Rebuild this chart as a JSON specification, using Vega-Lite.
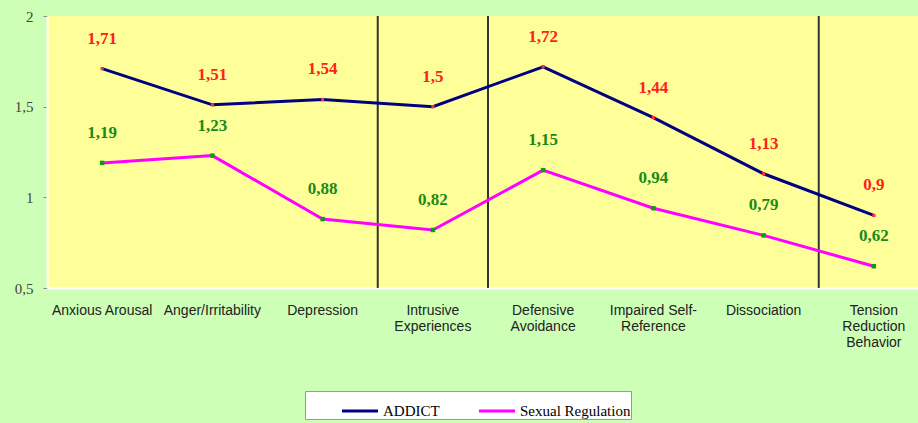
{
  "$schema": "https://vega.github.io/schema/vega-lite/v6.json",
  "autosize": {"type": "none"},
  "width": 871,
  "height": 272,
  "padding": {"left": 47, "top": 16, "right": 0, "bottom": 135},
  "background": "#cdffb6",
  "config": {
    "locale": {"number": {"decimal": ",", "thousands": ".", "grouping": [3], "currency": ["", " €"]}},
    "view": {"fill": "#ffff99", "stroke": null}
  },
  "datasets": {
    "scores": [
      {"category": "Anxious Arousal", "series": "ADDICT", "value": 1.71},
      {"category": "Anger/Irritability", "series": "ADDICT", "value": 1.51},
      {"category": "Depression", "series": "ADDICT", "value": 1.54},
      {"category": "Intrusive|Experiences", "series": "ADDICT", "value": 1.5},
      {"category": "Defensive|Avoidance", "series": "ADDICT", "value": 1.72},
      {"category": "Impaired Self-|Reference", "series": "ADDICT", "value": 1.44},
      {"category": "Dissociation", "series": "ADDICT", "value": 1.13},
      {"category": "Tension|Reduction|Behavior", "series": "ADDICT", "value": 0.9},
      {"category": "Anxious Arousal", "series": "Sexual Regulation", "value": 1.19},
      {"category": "Anger/Irritability", "series": "Sexual Regulation", "value": 1.23},
      {"category": "Depression", "series": "Sexual Regulation", "value": 0.88},
      {"category": "Intrusive|Experiences", "series": "Sexual Regulation", "value": 0.82},
      {"category": "Defensive|Avoidance", "series": "Sexual Regulation", "value": 1.15},
      {"category": "Impaired Self-|Reference", "series": "Sexual Regulation", "value": 0.94},
      {"category": "Dissociation", "series": "Sexual Regulation", "value": 0.79},
      {"category": "Tension|Reduction|Behavior", "series": "Sexual Regulation", "value": 0.62}
    ],
    "dividers": [
      {"category": "Intrusive|Experiences"},
      {"category": "Defensive|Avoidance"},
      {"category": "Tension|Reduction|Behavior"}
    ]
  },
  "layer": [
    {
      "data": {"name": "dividers"},
      "mark": {"type": "rule", "color": "#333333", "strokeWidth": 2},
      "encoding": {
        "x": {"field": "category", "type": "nominal", "bandPosition": 0}
      }
    },
    {
      "data": {"name": "scores"},
      "mark": {"type": "line", "strokeWidth": 3},
      "encoding": {
        "x": {
          "field": "category", "type": "nominal", "bandPosition": 0.5,
          "scale": {
            "type": "band", "paddingInner": 0, "paddingOuter": 0, "range": [0, 882],
            "domain": ["Anxious Arousal", "Anger/Irritability", "Depression", "Intrusive|Experiences", "Defensive|Avoidance", "Impaired Self-|Reference", "Dissociation", "Tension|Reduction|Behavior"]
          },
          "axis": {
            "title": null,
            "labelAngle": 0,
            "labelAlign": "center",
            "labelExpr": "split(datum.label, '|')",
            "labelFont": "Liberation Sans",
            "labelFontSize": 14,
            "labelColor": "#222222",
            "labelPadding": 15,
            "labelLineHeight": 16,
            "labelBaseline": "top",
            "labelOverlap": false,
            "labelBound": false,
            "domainColor": "#ffffff",
            "domainWidth": 2,
            "ticks": false,
            "grid": false
          }
        },
        "y": {
          "field": "value", "type": "quantitative",
          "scale": {"domain": [0.5, 2], "nice": false, "zero": false},
          "axis": {
            "title": null,
            "values": [0.5, 1, 1.5, 2],
            "format": "~g",
            "labelFont": "Liberation Serif",
            "labelFontSize": 15,
            "labelColor": "#444444",
            "labelPadding": 10,
            "domainColor": "#ffffff",
            "domainWidth": 2,
            "tickColor": "#888888",
            "tickSize": 4,
            "grid": false
          }
        },
        "color": {
          "field": "series", "type": "nominal",
          "scale": {"domain": ["ADDICT", "Sexual Regulation"], "range": ["#000080", "#ff00ff"]},
          "legend": {
            "title": null,
            "orient": "none",
            "legendX": 258,
            "legendY": 375,
            "direction": "horizontal",
            "fillColor": "#ffffff",
            "strokeColor": "#999999",
            "padding": 0,
            "symbolType": "stroke",
            "symbolStrokeWidth": 3,
            "symbolSize": 1300,
            "symbolOffset": 35,
            "labelOffset": 3,
            "labelFont": "Liberation Serif",
            "labelFontSize": 15,
            "labelColor": "#000000",
            "columnPadding": 2,
            "offset": 0
          }
        }
      }
    },
    {
      "data": {"name": "scores"},
      "transform": [{"filter": "datum.series == 'ADDICT'"}],
      "mark": {"type": "point", "shape": "square", "filled": true, "size": 10, "color": "#ff3030", "opacity": 1},
      "encoding": {
        "x": {"field": "category", "type": "nominal", "bandPosition": 0.5},
        "y": {"field": "value", "type": "quantitative"}
      }
    },
    {
      "data": {"name": "scores"},
      "transform": [{"filter": "datum.series == 'Sexual Regulation'"}],
      "mark": {"type": "point", "shape": "square", "filled": true, "size": 20, "color": "#119911", "opacity": 1},
      "encoding": {
        "x": {"field": "category", "type": "nominal", "bandPosition": 0.5},
        "y": {"field": "value", "type": "quantitative"}
      }
    },
    {
      "data": {"name": "scores"},
      "transform": [{"filter": "datum.series == 'ADDICT'"}],
      "mark": {"type": "text", "dy": -30, "font": "Liberation Serif", "fontWeight": "bold", "fontSize": 17, "color": "#ff2020"},
      "encoding": {
        "x": {"field": "category", "type": "nominal", "bandPosition": 0.5},
        "y": {"field": "value", "type": "quantitative"},
        "text": {"field": "value", "type": "quantitative", "format": "~g"}
      }
    },
    {
      "data": {"name": "scores"},
      "transform": [{"filter": "datum.series == 'Sexual Regulation'"}],
      "mark": {"type": "text", "dy": -30, "font": "Liberation Serif", "fontWeight": "bold", "fontSize": 17, "color": "#1a8a1a"},
      "encoding": {
        "x": {"field": "category", "type": "nominal", "bandPosition": 0.5},
        "y": {"field": "value", "type": "quantitative"},
        "text": {"field": "value", "type": "quantitative", "format": "~g"}
      }
    }
  ]
}
